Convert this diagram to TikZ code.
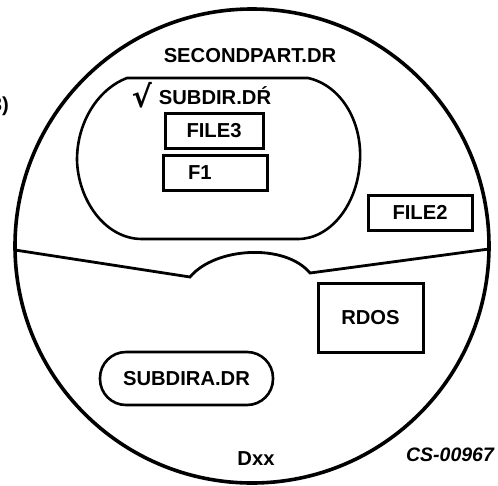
\documentclass[tikz,border=0pt]{standalone}
\usepackage{fontspec}
\setmainfont{Liberation Sans}
\newfontfamily\symfont{DejaVu Sans}
\usepackage{tikz}
\usetikzlibrary{positioning}

\tikzset{
	lbl/.style={font=\fontsize{20.2}{22}\selectfont\bfseries, inner sep=0pt, text height=14.5pt, text depth=0pt},
	filebox/.style={lbl, draw, line width=3pt, minimum height=35pt},
	dirpill/.style={lbl, draw, line width=2.6pt, rounded corners=26pt, minimum width=173pt, minimum height=53pt}
}

\begin{document}
\begin{tikzpicture}[x=1pt, y=-1pt]
			\useasboundingbox (0,0) rectangle (498,485);
			% disk outline
			\draw[line width=3.6pt] (252,246) circle (237);
			% boundary between the two parts
			\draw[line width=2.8pt, line join=miter]
			(15,250) -- (190,277) .. controls (215,247) and (285,243) .. (310,273) -- (489,249);
			% subdirectory outline
			\draw[line width=2.6pt]
			(127,78) -- (308,78) .. controls (340,85) and (362,120) .. (360,160)
			.. controls (358,205) and (330,239) .. (298,239) -- (142,239)
			.. controls (105,239) and (78,200) .. (77,160)
			.. controls (77,120) and (100,88) .. (127,78) -- cycle;
			\node[lbl] (second) at (250,55) {SECONDPART.DR};
			\node[lbl] (subdir) at (215,97.5) {SUBDIR.DŔ};
			\node[font=\fontsize{30}{32}\selectfont\symfont\bfseries, inner sep=0pt] (check) at (142,95) {√};
			\node[filebox, minimum width=98pt] (file3) at (214,130.5) {FILE3};
			\node[filebox, text width=54pt, inner xsep=25pt, align=left] (f1) at (215,172.5) {F1};
			\node[filebox, minimum width=104pt] (file2) at (420,212.5) {FILE2};
			\node[filebox, minimum width=105pt, minimum height=69pt] (rdos) at (370.5,317.5) {RDOS};
			\node[dirpill] (subdira) at (186.5,378.5) {SUBDIRA.DR};
			\node[lbl] (dxx) at (256,458) {Dxx};
			\node[lbl, font=\fontsize{19.5}{22}\selectfont\bfseries\itshape] (fig) at (450,454) {CS-00967};
			\node[lbl, anchor=east] (partref) at (9,104) {3)};
		\end{tikzpicture}
\end{document}
